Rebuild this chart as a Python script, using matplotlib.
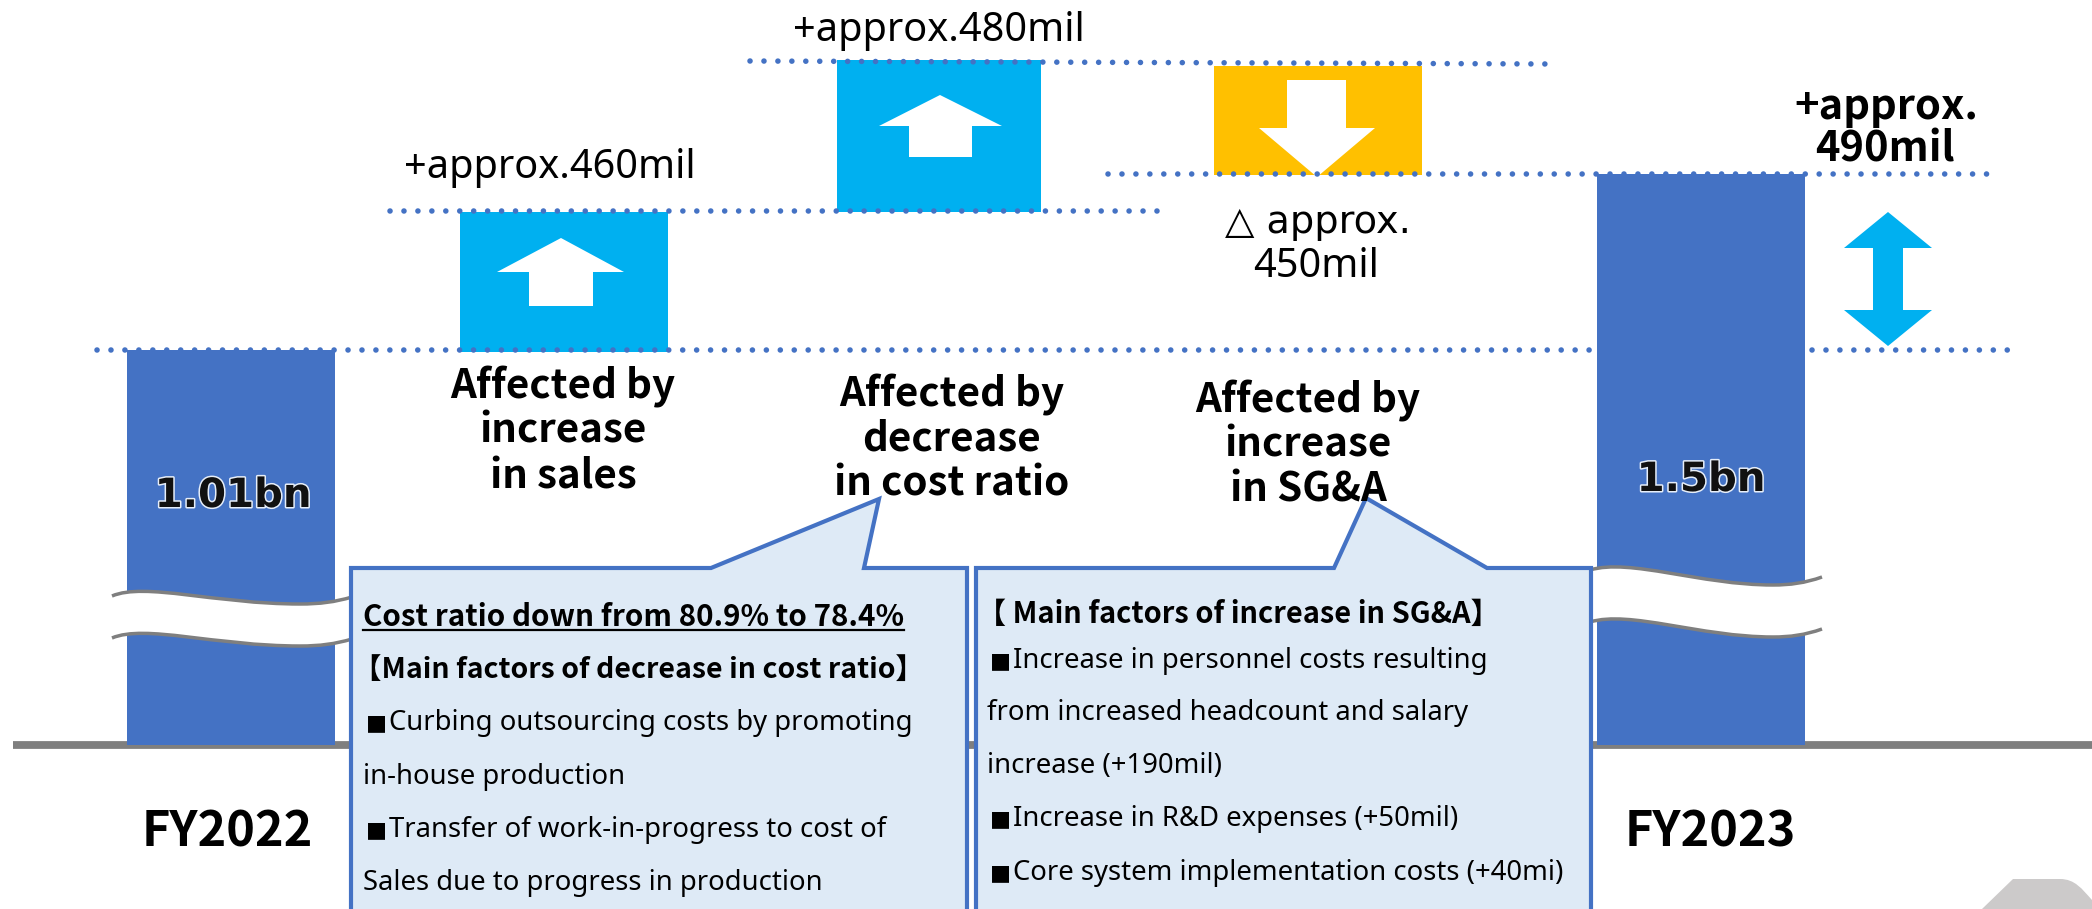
import matplotlib
matplotlib.use("Agg")
import matplotlib.pyplot as plt
from matplotlib.patches import Polygon, PathPatch
from matplotlib.path import Path
import matplotlib.patheffects as pe

plt.rcParams['font.family'] = ['Noto Sans', 'Noto Sans CJK JP', 'DejaVu Sans']

# the chart is schematic, the steps are not to scale, so levels are read off as pixels
year_labels = ["FY2022", "FY2023"]
year_values = ["1.01bn", "1.5bn"]
year_tops = [350, 174]
step_tops = [212, 60, 66]
step_bottoms = [352, 212, 175]
baseline = 745

BLUE = "#4472C4"
CYAN = "#00B0F0"
YELLOW = "#FFC000"
GRAY = "#7F7F7F"
PALE = "#DEEAF6"

fig = plt.figure(figsize=(20.92, 9.09), dpi=100)
ax = fig.add_axes([0, 0, 1, 1])
ax.set_xlim(0, 2092)
ax.set_ylim(909, 0)
ax.axis("off")


def dotted(x0, x1, y0, y1):
    ax.plot([x0, x1], [y0, y1], color=BLUE, lw=4, ls=(0, (0.01, 2.5)),
            dash_capstyle="round", zorder=3.5)


def wave(pts, off):
    # white gap in a bar, with a grey wavy edge above and below
    lower = [(px, py + off) for px, py in pts]
    codes = [Path.MOVETO] + [Path.CURVE4] * 6
    fill = pts + lower[::-1] + [pts[0]]
    fill_codes = codes + [Path.LINETO] + [Path.CURVE4] * 6 + [Path.CLOSEPOLY]
    ax.add_patch(PathPatch(Path(fill, fill_codes), fc="white", ec="none", zorder=4))
    for p in (pts, lower):
        ax.add_patch(PathPatch(Path(p, codes), fc="none", ec=GRAY, lw=2.5, zorder=5))


def txt(x, y, s, size, bold=False, ha="center", **kw):
    # Noto Sans has no bold here, the CJK family does
    if bold:
        kw.setdefault("family", ["Noto Sans CJK JP", "DejaVu Sans"])
    return ax.text(x, y + 3, s, fontsize=size, fontweight="bold" if bold else "normal",
                   ha=ha, va="center", color="black", zorder=8, **kw)


def body(x, y, s, size=19.8, bold=False):
    if s.startswith("■"):
        txt(x + 3, y, "■", 16, ha="left", family=["DejaVu Sans"])
        return txt(x + 26, y, s[1:], size, ha="left")
    return txt(x, y, s, size, bold=bold, ha="left")


# baseline
ax.plot([13, 2092], [baseline, baseline], color=GRAY, lw=5.6, solid_capstyle="butt", zorder=1)

# dotted level lines
dotted(97, 1597, 349.5, 349.5)
dotted(1812, 2008, 349.5, 349.5)
dotted(390, 1161, 211, 211)
dotted(750, 1552, 61, 64)
dotted(1108, 1992, 174, 174)

# bars
ax.bar([231, 1701], [baseline - t for t in year_tops], bottom=year_tops, width=208, color=BLUE, zorder=3)
ax.bar([564, 939, 1318],
       [b - t for b, t in zip(step_bottoms, step_tops)],
       bottom=step_tops, width=[208, 204, 208], color=[CYAN, CYAN, YELLOW], zorder=1.5)

# white arrows on the steps
ax.add_patch(Polygon([(561, 238), (624, 272), (593, 272), (593, 306), (529, 306), (529, 272), (497, 272)], fc="white", zorder=3))
ax.add_patch(Polygon([(940, 95), (1002, 126), (972, 126), (972, 157), (909, 157), (909, 126), (879, 126)], fc="white", zorder=3))
ax.add_patch(Polygon([(1287, 80), (1346, 80), (1346, 128), (1375, 128), (1317, 177), (1259, 128), (1287, 128)], fc="white", zorder=3))

# double arrow on the right
ax.add_patch(Polygon([(1888, 212), (1932, 248), (1903, 248), (1903, 310), (1932, 310), (1888, 346),
                      (1844, 310), (1873, 310), (1873, 248), (1844, 248)], fc=CYAN, zorder=3))

# axis breaks
wave([(112, 596), (145, 582), (215, 604), (300, 604), (320, 604), (335, 602), (352, 597)], 42)
wave([(1590, 570), (1630, 558), (1700, 585), (1773, 585), (1790, 585), (1805, 583), (1822, 577)], 52)

# callouts
left_box = [(351, 568), (711, 568), (879, 499), (864, 568), (967, 568), (967, 930), (351, 930)]
right_box = [(976, 568), (1334, 568), (1366, 498), (1487, 568), (1591, 568), (1591, 930), (976, 930)]
for box in (left_box, right_box):
    ax.add_patch(Polygon(box, fc=PALE, ec=BLUE, lw=3, joinstyle="miter", zorder=6))

# grey shape in the corner
corner = [(1982, 909), (2013, 879), (2013, 879), (2025, 879), (2060, 879), (2075, 879), (2082, 889), (2092, 900), (2092, 909), (1982, 909)]
corner_codes = [Path.MOVETO, Path.LINETO, Path.LINETO, Path.LINETO, Path.LINETO,
                Path.CURVE4, Path.CURVE4, Path.CURVE4, Path.LINETO, Path.CLOSEPOLY]
ax.add_patch(PathPatch(Path(corner, corner_codes), fc="#CCCACA", ec="none", zorder=1))

# amounts
txt(550, 165, "+approx.460mil", 28.6)
txt(939, 28, "+approx.480mil", 28.6)
txt(1318, 220, "△ approx.", 27.5, family=["DejaVu Sans"])
txt(1316, 264, "450mil", 28.6)
txt(1886, 104, "+approx.", 30, bold=True)
txt(1885, 147, "490mil", 30, bold=True)

# reasons
for x, ys, lines in [(563, (384, 428, 474), ("Affected by", "increase", "in sales")),
                     (952, (392, 436, 481), ("Affected by", "decrease", "in cost ratio")),
                     (1308, (398, 442, 487), ("Affected by", "increase", "in SG&A"))]:
    for y, line in zip(ys, lines):
        txt(x, y, line, 29, bold=True)

# year labels and totals
halo = [pe.withStroke(linewidth=2.2, foreground="#E6EEF9")]
for x, y, s in zip([233, 1701], [496, 480], year_values):
    ax.text(x, y, s, fontsize=29, fontweight="bold", family="DejaVu Sans", ha="center", va="center",
            color="#111111", zorder=8, path_effects=halo)
for x, s in zip([227, 1710], year_labels):
    txt(x, 829, s, 35, bold=True)

# callout text
left_lines = ["Cost ratio down from 80.9% to 78.4%", "【Main factors of decrease in cost ratio】",
              "■Curbing outsourcing costs by promoting", "in-house production",
              "■Transfer of work-in-progress to cost of", "Sales due to progress in production"]
left_y = [614, 667, 720, 774, 827, 880]
left_head_sizes = [21.3, 20.5]
right_lines = ["【 Main factors of increase in SG&A】", "■Increase in personnel costs resulting",
               "from increased headcount and salary", "increase (+190mil)",
               "■Increase in R&D expenses (+50mil)", "■Core system implementation costs (+40mi)"]
right_y = [611, 658, 710, 763, 816, 870]

for i, (y, s) in enumerate(zip(left_y, left_lines)):
    x = 353 if s.startswith("【") else 363
    if i < 2:
        t = body(x, y, s, size=left_head_sizes[i], bold=True)
    else:
        t = body(x, y, s)
    if i == 0:
        fig.canvas.draw()
        bb = t.get_window_extent()
        ax.plot([bb.x0, bb.x1], [y + 16, y + 16], color="black", lw=1.6, zorder=8)
for i, (y, s) in enumerate(zip(right_y, right_lines)):
    x = 977 if s.startswith("【") else 987
    if i == 0:
        body(x, y, s, size=20.9, bold=True)
    else:
        body(x, y, s)

fig.savefig("out.png", dpi=100)
